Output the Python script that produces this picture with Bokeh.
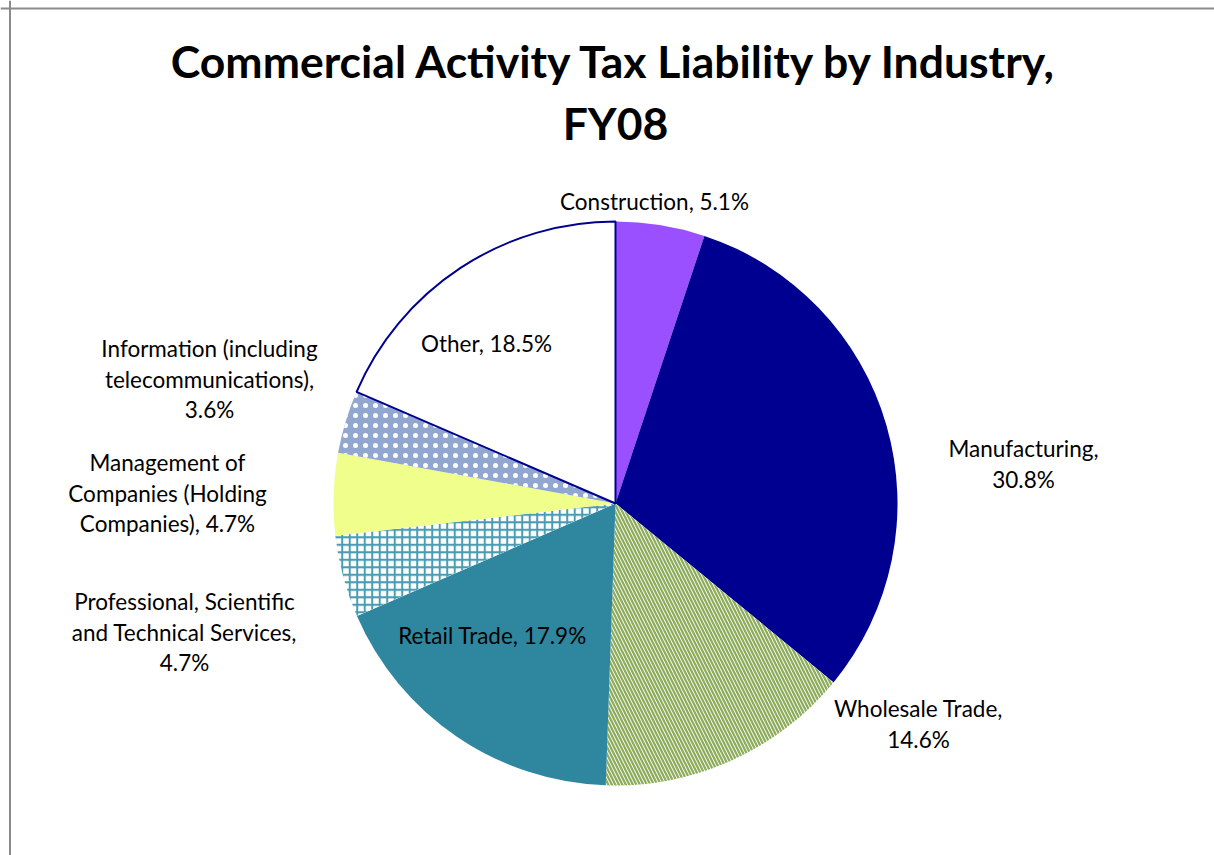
import math
from bokeh.plotting import figure
from bokeh.models import Range1d, Span
from bokeh.core.properties import value
from bokeh.embed import file_html
from bokeh.resources import INLINE

# ---- data ----
industries = ["Construction", "Manufacturing", "Wholesale Trade", "Retail Trade",
              "Professional, Scientific and Technical Services",
              "Management of Companies (Holding Companies)",
              "Information (including telecommunications)", "Other"]
shares = [5.1, 30.8, 14.6, 17.9, 4.7, 4.7, 3.6, 18.5]
label_texts = [
    "Construction, 5.1%",
    "Manufacturing,\n30.8%",
    "Wholesale Trade,\n14.6%",
    "Retail Trade, 17.9%",
    "Professional, Scientific\nand Technical Services,\n4.7%",
    "Management of\nCompanies (Holding\nCompanies), 4.7%",
    "Information (including\ntelecommunications),\n3.6%",
    "Other, 18.5%",
]

# ---- styles / layout ----
W, H = 1214, 855
fill_colors = ["#9B50FF", "#000090", "#FFFFFF", "#2E879F", "#FFFFFF", "#F0FF8C", "#92A7D0", "#FFFFFF"]
hatch_patterns = [None, None, "\\", None, "+", None, ".", None]
hatch_colors = [None, None, "#8DAC5C", None, "#4A9CB4", None, "#FFFFFF", None]
hatch_scales = [12, 12, 7, 12, 7.5, 12, 10, 12]
hatch_weights = [1, 1, 2.3, 1, 2, 1, 0.9, 1]
# label first-line centre positions in page pixels
label_pos = [(654, 201), (1023, 448), (918, 708), (492, 635),
             (184, 601), (167, 462), (209, 348), (486, 343)]
line_gap = 30.5
center_px = (615, 503)
radius = 282


def dx(px):
    return px


def dy(py):
    return H - py


p = figure(width=W, height=H, output_backend="svg", toolbar_location=None,
           x_range=Range1d(0, W), y_range=Range1d(0, H), min_border=0)
p.axis.visible = False
p.grid.visible = False
p.outline_line_color = None
p.background_fill_color = "white"

cx, cy = dx(center_px[0]), dy(center_px[1])
total = sum(shares)
cum = 0.0
for i, s in enumerate(shares):
    a0 = math.pi / 2 - 2 * math.pi * cum / total
    cum += s
    a1 = math.pi / 2 - 2 * math.pi * cum / total
    kw = dict(x=[cx], y=[cy], radius=radius, start_angle=a0, end_angle=a1,
              direction="clock", fill_color=fill_colors[i], line_color=None)
    if hatch_patterns[i]:
        kw.update(hatch_pattern=hatch_patterns[i], hatch_color=hatch_colors[i],
                  hatch_scale=hatch_scales[i], hatch_weight=hatch_weights[i])
    if industries[i] == "Other":
        kw.update(line_color="#000090", line_width=2)
    p.wedge(**kw)

font = value("Lato")
for txt, (lx, ly) in zip(label_texts, label_pos):
    for k, line in enumerate(txt.split("\n")):
        p.text(x=[dx(lx)], y=[dy(ly + k * line_gap)], text=[line],
               text_align="center", text_baseline="middle", text_font=font,
               text_font_size="22.5px", text_color="#000000")

title_lines = ["Commercial Activity Tax Liability by Industry,", "FY08"]
for k, t in enumerate(title_lines):
    p.text(x=[dx(615)], y=[dy(60 + k * 62)], text=[t], text_align="center",
           text_baseline="middle", text_font=font, text_font_size="44.5px",
           text_font_style="bold", text_color="#000000")

p.add_layout(Span(location=dx(9.5), dimension="height", line_color="#8a8a8a", line_width=2))
p.add_layout(Span(location=dy(8), dimension="width", line_color="#8a8a8a", line_width=2))

open("out.html", "w").write(file_html(p, INLINE))
